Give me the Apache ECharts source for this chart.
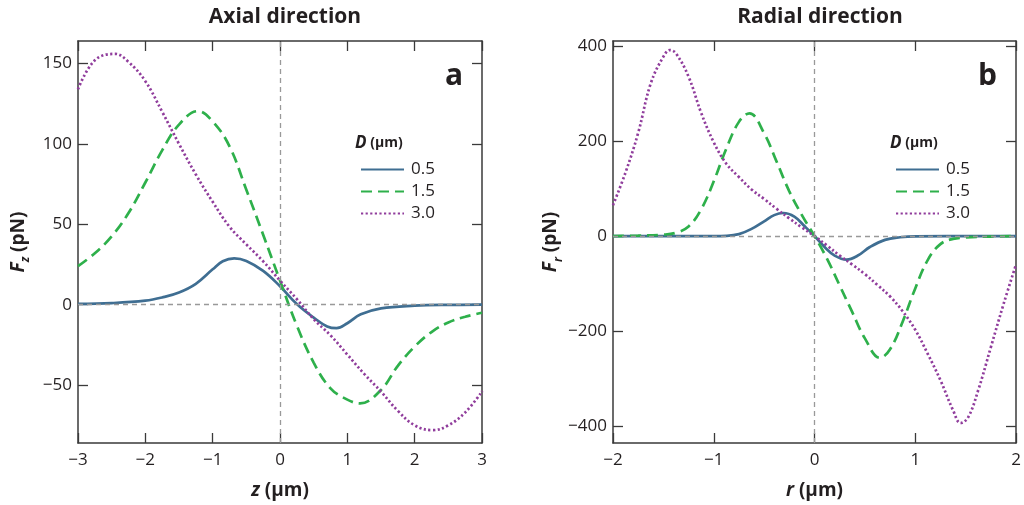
<!DOCTYPE html>
<html>
<head>
<meta charset="utf-8">
<script src="https://cdn.jsdelivr.net/npm/echarts@6/dist/echarts.min.js"></script>
<style>
html,body{margin:0;padding:0;background:#fff;}
#chart{width:1024px;height:505px;}
</style>
</head>
<body>
<div id="chart"></div>
<script>
// ---------- data ----------
// Axial direction (panel a): z (µm) -> Fz (pN)
const axialZ05 = [-3,-2.5,-2,-1.75,-1.5,-1.25,-1,-0.85,-0.68,-0.5,-0.25,0,0.25,0.5,0.7,0.84,1,1.2,1.5,2,2.5,3];
const axialF05 = [0.5,1,2.5,4.5,7.6,13,22,27,28.8,27.2,21,11.5,0.4,-8,-13.5,-14.6,-11.5,-6,-2.3,-0.6,-0.1,0];
const axialZ15 = [-3,-2.75,-2.5,-2.25,-2,-1.75,-1.5,-1.22,-1,-0.75,-0.5,-0.25,0,0.25,0.5,0.75,1,1.19,1.5,1.75,2,2.25,2.5,2.75,3];
const axialF15 = [24,32,42.5,57,76,96,112,120.4,114,98.5,71.5,43.5,15,-13,-36,-52,-59,-61.4,-53,-38,-26,-17,-11,-7.5,-5];
const axialZ30 = [-3,-2.75,-2.45,-2.25,-2,-1.75,-1.5,-1.25,-1,-0.75,-0.5,-0.25,0,0.25,0.5,0.75,1,1.25,1.5,1.75,2,2.27,2.5,2.75,3];
const axialF30 = [134,152,156,151,139,120,100,81,64,48.5,37.5,27,15,3.5,-9,-19,-31,-43,-54,-66,-75,-78,-75,-67,-54];

// Radial direction (panel b): r (µm) -> Fr (pN)
const radialR05 = [-2,-1,-0.875,-0.75,-0.625,-0.5,-0.4,-0.31,-0.2,-0.1,0,0.1,0.2,0.32,0.43,0.55,0.7,0.85,1,2];
const radialF05 = [0,0,0.5,4,15,31,44,48.5,41,21,0,-23,-41,-49.5,-41,-23,-8,-2.5,-0.5,0];
const radialR15 = [-2,-1.75,-1.5,-1.375,-1.25,-1.125,-1,-0.875,-0.75,-0.645,-0.5,-0.375,-0.25,-0.125,0,0.125,0.25,0.375,0.5,0.65,0.75,0.875,1,1.125,1.25,1.375,1.5,1.75,2];
const radialF15 = [0,1,3,7,20,56,115,184,240,258,216,156,94,44,0,-48,-104,-160,-215,-256,-238,-180,-110,-50,-17,-6,-3,-1,0];
const radialR30 = [-2,-1.875,-1.75,-1.625,-1.5,-1.435,-1.375,-1.25,-1.125,-1,-0.875,-0.75,-0.625,-0.5,-0.375,-0.25,-0.125,0,0.125,0.25,0.375,0.5,0.625,0.75,0.875,1,1.125,1.25,1.375,1.45,1.525,1.625,1.75,1.875,2];
const radialF30 = [65,134,217,321,377,391,384,335,259,197,152,124,98,78,57,37,18,0,-20,-41,-60,-80,-103,-127,-158,-197,-248,-303,-366,-393,-381,-324,-234,-144,-60];

const seriesNames = ['0.5','1.5','3.0'];
const xTicksAxial = [-3,-2,-1,0,1,2,3];
const yTicksAxial = [-50,0,50,100,150];
const xTicksRadial = [-2,-1,0,1,2];
const yTicksRadial = [-400,-200,0,200,400];

// ---------- style ----------
const FONT = 'Open Sans';
const TXT = '#231f20';
const AX = '#3a3a3a';
const colors = ['#3f6e92','#2eb04b','#903d9c'];
const dashes = ['solid',[11,6],[2.2,2.4]];
const fmt = v => String(v).replace('-', '\u2212');

function pairs(xs, ys){ return xs.map((x,i)=>[x, ys[i]]); }

function xAxes(grid, min, max, ticks, nameRich){
  return [
    {type:'value', gridIndex:grid, min:min, max:max, position:'bottom',
     axisLine:{show:true, onZero:false, lineStyle:{color:AX,width:1.5}},
     axisTick:{show:true, inside:true, length:10, customValues:ticks, lineStyle:{color:AX,width:1.3}},
     axisLabel:{show:true, customValues:ticks, formatter:fmt, margin:9, color:TXT, fontFamily:FONT, fontSize:17},
     splitLine:{show:false},
     name:nameRich.text, nameLocation:'middle', nameGap:38,
     nameTextStyle:{color:TXT, fontFamily:FONT, rich:nameRich.rich}},
    {type:'value', gridIndex:grid, min:min, max:max, position:'top',
     axisLine:{show:true, onZero:false, lineStyle:{color:AX,width:1.5}},
     axisTick:{show:true, inside:true, length:10, customValues:ticks, lineStyle:{color:AX,width:1.3}},
     axisLabel:{show:false}, splitLine:{show:false}}
  ];
}
function yAxes(grid, min, max, ticks, nameRich, gap){
  return [
    {type:'value', gridIndex:grid, min:min, max:max, position:'left',
     axisLine:{show:true, onZero:false, lineStyle:{color:AX,width:1.5}},
     axisTick:{show:true, inside:true, length:10, customValues:ticks, lineStyle:{color:AX,width:1.3}},
     axisLabel:{show:true, customValues:ticks, formatter:fmt, margin:6, color:TXT, fontFamily:FONT, fontSize:17},
     splitLine:{show:false},
     name:nameRich.text, nameLocation:'middle', nameGap:gap, nameRotate:90,
     nameTextStyle:{color:TXT, fontFamily:FONT, rich:nameRich.rich}},
    {type:'value', gridIndex:grid, min:min, max:max, position:'right',
     axisLine:{show:true, onZero:false, lineStyle:{color:AX,width:1.5}},
     axisTick:{show:true, inside:true, length:10, customValues:ticks, lineStyle:{color:AX,width:1.3}},
     axisLabel:{show:false}, splitLine:{show:false}}
  ];
}
const nameRichBase = {
  i:{fontStyle:'italic', fontWeight:'bold', fontSize:19, fontFamily:FONT, color:TXT},
  s:{fontStyle:'italic', fontWeight:'bold', fontSize:12, fontFamily:FONT, color:TXT, verticalAlign:'bottom', padding:[0,0,-4,0]},
  n:{fontWeight:'bold', fontSize:19, fontFamily:FONT, color:TXT}
};
function lineSeries(name, xi, yi, xs, ys, k){
  return {type:'line', name:name, xAxisIndex:xi, yAxisIndex:yi, data:pairs(xs, ys),
    smooth:0.4, showSymbol:false, symbol:'none', z:3,
    lineStyle:{color:colors[k], width:2.7, type:dashes[k], cap:'butt'},
    itemStyle:{color:colors[k]}};
}
function refLines(xi, yi){
  return {type:'line', xAxisIndex:xi, yAxisIndex:yi, data:[], symbol:'none', silent:true, z:1,
    markLine:{silent:true, symbol:['none','none'], label:{show:false}, animation:false,
      lineStyle:{color:'#999', width:1.3, type:[5,4]},
      data:[{xAxis:0},{yAxis:0}]}};
}
const legendBase = {data:seriesNames, orient:'vertical', top:156, itemWidth:43, itemHeight:14, itemGap:5,
  itemStyle:{opacity:0}, textStyle:{fontFamily:FONT, fontSize:17, color:TXT, padding:[0,0,0,2]}, selectedMode:false};
const headRich = {
  d:{fontStyle:'italic', fontWeight:'bold', fontSize:17, fontFamily:FONT, fill:TXT},
  u:{fontWeight:'bold', fontSize:14, fontFamily:FONT, fill:TXT}};

const option = {
  animation:false,
  backgroundColor:'#fff',
  textStyle:{fontFamily:FONT},
  grid:[
    {left:78, top:41, width:404, height:403},
    {left:613, top:41, width:403, height:403}
  ],
  xAxis:[].concat(
    xAxes(0,-3,3,xTicksAxial,{text:'{i|z}{n| (μm)}', rich:nameRichBase}),
    xAxes(1,-2,2,xTicksRadial,{text:'{i|r}{n| (μm)}', rich:nameRichBase})
  ),
  yAxis:[].concat(
    yAxes(0,-86,164,yTicksAxial,{text:'{i|F}{s|z}{n| (pN)}', rich:nameRichBase},50),
    yAxes(1,-435,410,yTicksRadial,{text:'{i|F}{s|r}{n| (pN)}', rich:nameRichBase},47)
  ),
  title:[
    {text:'Axial direction', left:280, top:2, textAlign:'center',
     textStyle:{fontFamily:FONT, fontWeight:'bold', fontSize:21, color:TXT}},
    {text:'Radial direction', left:815, top:2, textAlign:'center',
     textStyle:{fontFamily:FONT, fontWeight:'bold', fontSize:21, color:TXT}}
  ],
  legend:[
    Object.assign({left:355}, legendBase),
    Object.assign({left:890}, legendBase)
  ],
  graphic:[
    {type:'text', left:355, top:135, style:{text:'{d|D}{u| (μm)}', rich:headRich}},
    {type:'text', left:890, top:135, style:{text:'{d|D}{u| (μm)}', rich:headRich}},
    {type:'text', right:1024-463, top:61, style:{text:'a', fontFamily:FONT, fontWeight:'bold', fontSize:30, fill:TXT}},
    {type:'text', right:1024-997, top:61, style:{text:'b', fontFamily:FONT, fontWeight:'bold', fontSize:30, fill:TXT}}
  ],
  series:[
    refLines(0,0),
    lineSeries(seriesNames[0],0,0,axialZ05,axialF05,0),
    lineSeries(seriesNames[1],0,0,axialZ15,axialF15,1),
    lineSeries(seriesNames[2],0,0,axialZ30,axialF30,2),
    refLines(2,2),
    lineSeries(seriesNames[0],2,2,radialR05,radialF05,0),
    lineSeries(seriesNames[1],2,2,radialR15,radialF15,1),
    lineSeries(seriesNames[2],2,2,radialR30,radialF30,2)
  ]
};
const chart = echarts.init(document.getElementById('chart'), null, {renderer:'canvas'});
chart.setOption(option);
</script>
</body>
</html>
